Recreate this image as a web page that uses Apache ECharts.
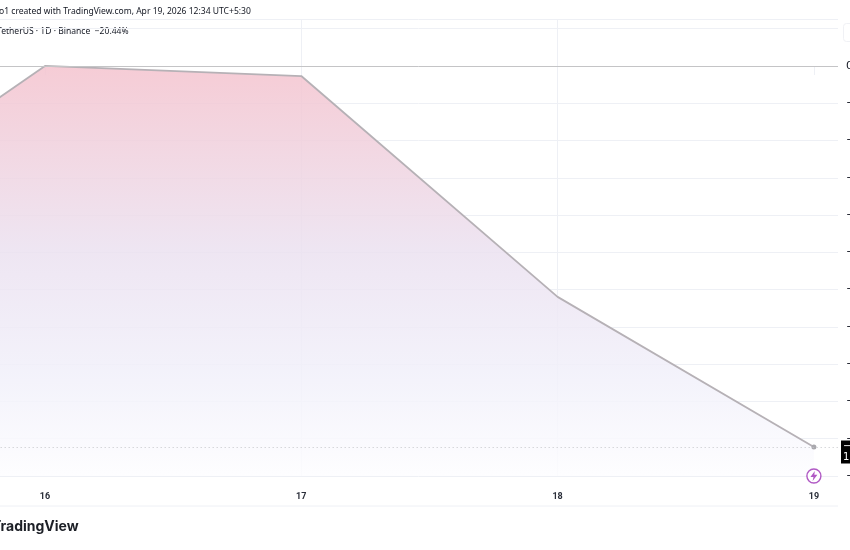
<!DOCTYPE html>
<html>
<head>
<meta charset="utf-8">
<style>html,body{margin:0;padding:0;background:#fff}#c{width:850px;height:550px}</style>
<script src="https://cdn.jsdelivr.net/npm/echarts@6/dist/echarts.min.js"></script>
</head>
<body>
<div id="c"></div>
<script>
const days = [15, 16, 17, 18, 19];
const changes = [-9.5, 0, -0.54, -12.39, -20.44];
const dayLabels = [16, 17, 18, 19];
const yMin = -22, yMax = 2.52, yStep = 2;
const headerText = 'o1 created with TradingView.com, Apr 19, 2026 12:34 UTC+5:30';
const legendText = 'TetherUS · 1D · Binance  −20.44%';
const logoText = 'TradingView';
const lastLabel = '−20.44%\n11:25:38';
const eventDay = 19;

const gridColor = '#eef0f5';
const font = '"DejaVu Sans"';
const fmtPct = v => v > 0 ? '' : (v < 0 ? '−' : '') + Math.abs(v).toFixed(2) + '%';
const last = changes[changes.length - 1];

const chart = echarts.init(document.getElementById('c'), null, {renderer: 'canvas'});
chart.setOption({
  animation: false,
  backgroundColor: '#fff',
  grid: {left: -211.33, right: 12, top: 19, bottom: 74, containLabel: false, outerBoundsMode: 'none'},
  xAxis: {
    type: 'value', min: 15, max: 19.094, interval: 1,
    axisLine: {show: false},
    axisTick: {show: true, length: 9, customValues: dayLabels, lineStyle: {color: gridColor}},
    axisLabel: {customValues: dayLabels, formatter: v => String(v), margin: 16,
      fontFamily: 'Roboto', fontSize: 9, fontWeight: 'bold', color: '#2a2e39'},
    splitLine: {show: true, showMaxLine: false, showMinLine: false, lineStyle: {color: gridColor}}
  },
  yAxis: {
    type: 'value', position: 'right', min: yMin, max: yMax, interval: yStep,
    axisLine: {show: false}, axisTick: {show: false},
    axisLabel: {margin: 8, showMaxLabel: false, align: 'left', fontFamily: font, fontSize: 11, color: '#131722',
      formatter: fmtPct},
    splitLine: {show: true, lineStyle: {color: gridColor}}
  },
  series: [
    {
      type: 'line',
      data: days.map((d, i) => [d, changes[i]]),
      symbol: (v, p) => p.dataIndex === days.length - 1 ? 'circle' : 'none',
      showAllSymbol: true,
      symbolSize: 5,
      itemStyle: {color: '#a9a8ad'},
      lineStyle: {color: '#b6b1b6', width: 1.8},
      areaStyle: {
        origin: 'start',
        opacity: 0.85,
        color: new echarts.graphic.LinearGradient(0, 0, 0, 1, [
          {offset: 0, color: '#f4c3ce'},
          {offset: 0.45, color: '#ebe1f0'},
          {offset: 0.75, color: '#f1f0fa'},
          {offset: 1, color: '#fdfdff'}
        ])
      },
      markLine: {
        silent: true, symbol: 'none', animation: false,
        data: [
          {yAxis: 0, lineStyle: {color: '#c4c4c6', type: 'solid', width: 1}, label: {show: false}},
          {yAxis: last, lineStyle: {color: '#c4c5c9', type: [1, 3], width: 1},
            label: {show: true, position: 'end', distance: 3, formatter: lastLabel, align: 'left', offset: [0, 5],
              backgroundColor: '#000', color: '#fff', fontFamily: font, fontSize: 10, lineHeight: 11, padding: [1, 2, 0, 2]}}
        ]
      },
      z: 3
    },
    {
      type: 'scatter',
      data: [[eventDay, yMin]],
      symbol: 'circle', symbolSize: 14,
      itemStyle: {color: '#fff', borderColor: '#9c2fb5', borderWidth: 1.4},
      z: 5
    },
    {
      type: 'scatter',
      data: [[eventDay, yMin]],
      symbol: 'path://M14 1 L4 14 H11 L9 23 L20 9 H13 Z', symbolSize: [7, 10],
      itemStyle: {color: '#9c2fb5'},
      z: 6
    }
  ],
  graphic: [
    {type: 'text', left: -1, top: 7, style: {text: headerText, font: '8.55px "Noto Sans"', fill: '#131722'}},
    {type: 'text', left: -3, top: 27, style: {text: legendText, font: '8.55px "Noto Sans"', fill: '#131722'}},
    {type: 'text', left: -8, top: 520, style: {text: logoText, font: 'bold 14px Inter', fill: '#1c1f26'}},
    {type: 'line', shape: {x1: 0, y1: 506, x2: 838, y2: 506}, style: {stroke: gridColor, lineWidth: 1}},
    {type: 'rect', shape: {x: 843.5, y: 23.5, width: 12, height: 18, r: 3}, style: {fill: '#fff', stroke: '#f0f1f5', lineWidth: 1}}
  ]
});
</script>
</body>
</html>
